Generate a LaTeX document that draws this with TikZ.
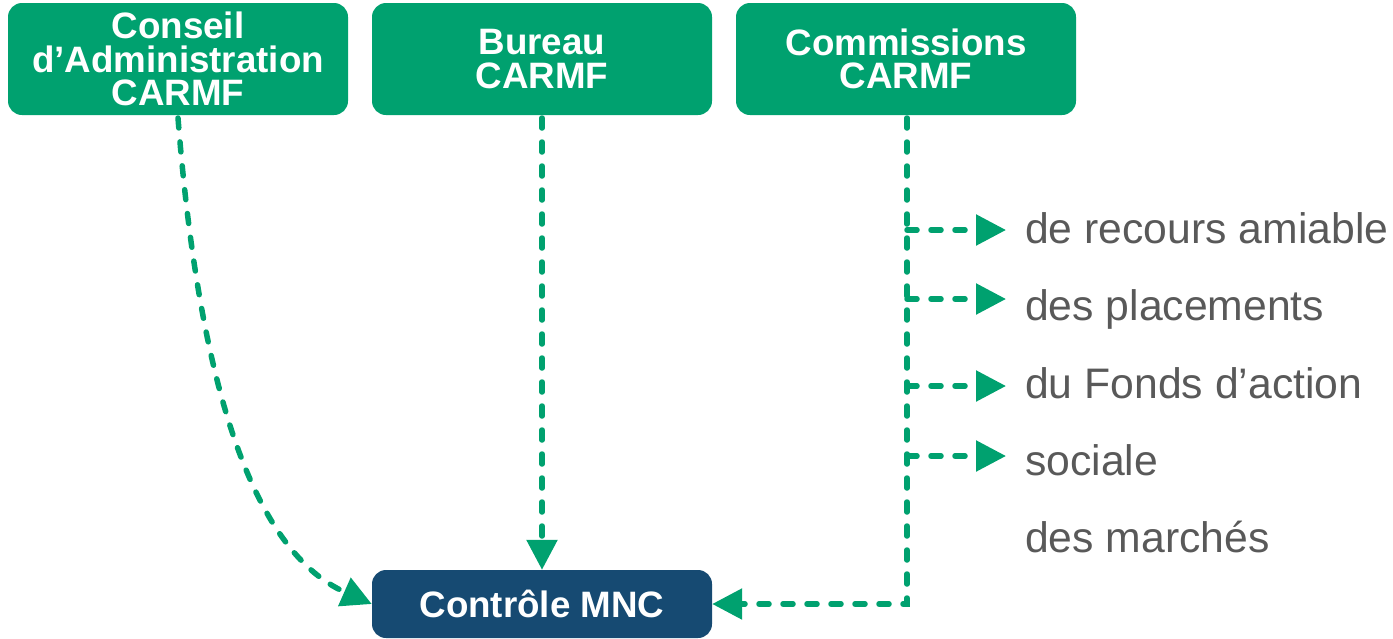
\documentclass[tikz,border=0pt]{standalone}
\usepackage{fontspec}
\setmainfont{Liberation Sans}
\usetikzlibrary{arrows.meta}
\definecolor{cgreen}{RGB}{0,161,111}
\definecolor{cblue}{RGB}{22,74,114}
\definecolor{cgray}{RGB}{89,89,89}
\begin{document}
\begin{tikzpicture}[x=1pt,y=-1pt,
  gbox/.style={draw=none,fill=cgreen,rounded corners=14pt,minimum width=340pt,minimum height=112pt,inner sep=0pt,
    text=white,font=\fontsize{36.75}{33.5}\selectfont\bfseries,align=center},
  bbox/.style={draw=none,fill=cblue,rounded corners=14pt,minimum width=340pt,minimum height=68pt,inner sep=0pt,
    text=white,font=\fontsize{36.75}{33.5}\selectfont\bfseries},
  item/.style={anchor=base west,inner sep=0pt,text=cgray,font=\fontsize{42.7}{44}\selectfont},
  dl/.style={draw=cgreen,line width=5.5pt,line cap=round,dash pattern=on 10pt off 14pt,
    -{Triangle[length=30pt,width=30pt,line cap=butt]},shorten >=0pt}]
\useasboundingbox (0,0) rectangle (1393,638);
\node[gbox] (c1) at (178,59) {Conseil\\d’Administration\\CARMF};
\node[gbox] (c2) at (542,59) {Bureau\\CARMF};
\node[gbox] (c3) at (906,59) {Commissions\\CARMF};
\node[bbox] (m) at (542,604) {Contrôle MNC};
\node[item] (t1) at (1025,243) {de recours amiable};
\node[item] (t2) at (1025,320) {des placements};
\node[item] (t3) at (1025,398) {du Fonds d’action};
\node[item] (t4) at (1025,475) {sociale};
\node[item] (t5) at (1025,552) {des marchés};
\coordinate (v) at (907,118);
\coordinate (corner) at (907,604);
\coordinate (b1) at (907,230);
\coordinate (b2) at (907,299);
\coordinate (b3) at (907,386);
\coordinate (b4) at (907,456);
\coordinate (e1) at (1006,230);
\coordinate (e2) at (1006,299);
\coordinate (e3) at (1006,386);
\coordinate (e4) at (1006,456);
\coordinate (s1) at (178,118);
\coordinate (s2) at (542,118);
\draw[dl] (s1) .. controls (197,360) and (245,548) .. (m.west);
\draw[dl] (s2) -- (m.north);
\draw[dl] (v) -- (corner) -- (m.east);
\draw[dl] (b1) -- (e1);
\draw[dl] (b2) -- (e2);
\draw[dl] (b3) -- (e3);
\draw[dl] (b4) -- (e4);
\end{tikzpicture}
\end{document}
